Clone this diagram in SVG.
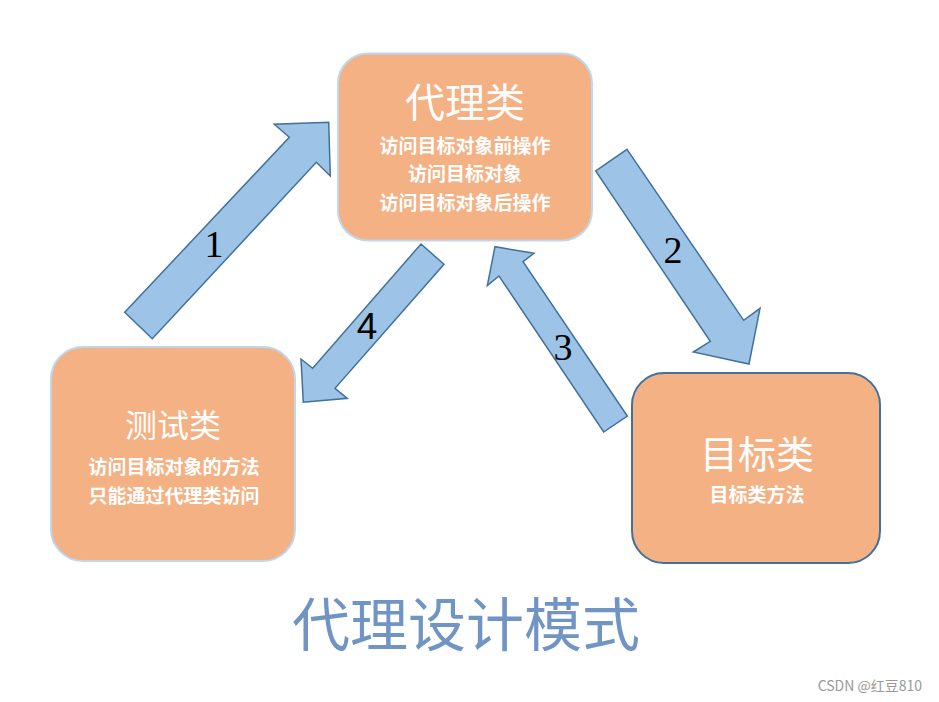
<svg xmlns="http://www.w3.org/2000/svg" width="939" height="702" viewBox="0 0 939 702">
<style>
.node{fill:#F4B183;stroke-width:2}
.lt{stroke:#BDD7EE}
.dk{stroke:#41719C}
.arr{fill:#9DC3E6;stroke:#41719C;stroke-width:1.5;stroke-linejoin:miter}
.cj{font-family:"Noto Sans CJK SC","Noto Sans",sans-serif;fill:#fff;text-anchor:middle}
.sub{font-size:19px;font-weight:bold}
.num{font-family:"Liberation Serif",serif;font-size:38px;fill:#000;text-anchor:middle}
</style>
<rect width="939" height="702" fill="#fff"/>
<g id="connectors">
<polygon class="arr" points="124.7,312.3 289.3,137.3 274.3,124.3 328.7,122.3 330.3,176 316.3,162.3 152.3,338.7"/>
<polygon class="arr" points="627,149.3 743.7,320.3 760,308.3 749,364 693.3,352 710.3,341.3 595.7,171"/>
<polygon class="arr" points="627.3,416 523,261.7 534,253.3 495,246.7 487.3,285.7 499,276 603.7,432"/>
<polygon class="arr" points="421,244 444,264.3 335,388.3 347.3,398.3 303.3,402.3 301,359 312.7,368.3"/>
<text class="num" x="214" y="257">1</text>
<text class="num" x="673" y="263">2</text>
<text class="num" x="563" y="360">3</text>
<text class="num" x="367" y="339" style="font-family:'Liberation Sans',sans-serif;font-size:37px">4</text>
</g>
<g id="proxy">
<rect class="node lt" x="338" y="53.5" width="254" height="187" rx="30"/>
<text class="cj" x="465" y="117" font-size="40">代理类</text>
<text class="cj sub" x="465" y="153">访问目标对象前操作</text>
<text class="cj sub" x="465" y="181">访问目标对象</text>
<text class="cj sub" x="465" y="210">访问目标对象后操作</text>
</g>
<g id="test">
<rect class="node lt" x="51" y="347" width="244" height="214" rx="32"/>
<text class="cj" x="173" y="437" font-size="32">测试类</text>
<text class="cj sub" x="174" y="474">访问目标对象的方法</text>
<text class="cj sub" x="174" y="503">只能通过代理类访问</text>
</g>
<g id="target">
<rect class="node dk" x="632" y="373" width="248" height="190" rx="32"/>
<text class="cj" x="757" y="468" font-size="38">目标类</text>
<text class="cj sub" x="757" y="502">目标类方法</text>
</g>
<text x="466" y="646" font-family="Noto Sans CJK SC,sans-serif" font-size="58" fill="#7094C4" text-anchor="middle">代理设计模式</text>
<text x="922" y="691" font-family="Noto Sans CJK SC,sans-serif" font-size="14" fill="#999" text-anchor="end">CSDN @红豆810</text>
</svg>
